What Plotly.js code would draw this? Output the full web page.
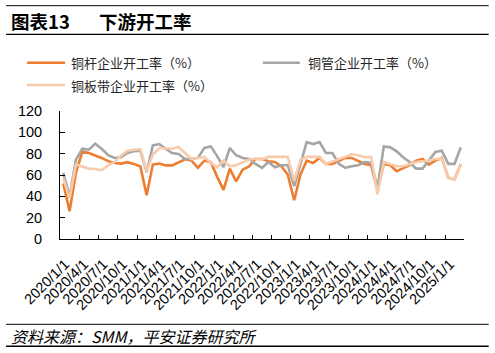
<!DOCTYPE html>
<html><head><meta charset="utf-8">
<script src="https://cdn.plot.ly/plotly-3.0.1.min.js"></script>
<style>html,body{margin:0;padding:0;background:#fff;}#chart{width:495px;height:353px;}</style>
</head><body><div id="chart"></div>
<script>
// ---- data ----
const months = [
"2020-01","2020-02","2020-03","2020-04","2020-05","2020-06","2020-07","2020-08","2020-09","2020-10","2020-11","2020-12",
"2021-01","2021-02","2021-03","2021-04","2021-05","2021-06","2021-07","2021-08","2021-09","2021-10","2021-11","2021-12",
"2022-01","2022-02","2022-03","2022-04","2022-05","2022-06","2022-07","2022-08","2022-09","2022-10","2022-11","2022-12",
"2023-01","2023-02","2023-03","2023-04","2023-05","2023-06","2023-07","2023-08","2023-09","2023-10","2023-11","2023-12",
"2024-01","2024-02","2024-03","2024-04","2024-05","2024-06","2024-07","2024-08","2024-09","2024-10","2024-11","2024-12",
"2025-01","2025-02","2025-03"];
const rodRate = [52,26,62,82,80.6,78.5,76,73,71.3,70.7,72,70.4,
68,41,69.8,70.7,69,69,72.2,74.7,73.5,66.7,73.5,72,
58,46,66,54,65,68,75,75,72.9,72.2,68.2,60.5,
36.3,60.5,73.5,71.3,76,70.4,70.4,73.5,76,76,73.5,70.4,
69.2,45,70.4,69.2,63.6,66.7,69.2,73.5,75,69.8,73.5,76,
57.4,55.8,70.4];
const tubeRate = [62,40,74.4,84.6,83.7,89.3,84.6,78.5,76,76.6,80.6,82.2,
82.8,62.6,87.7,89,84.6,80.6,79.7,75,75,76,85.3,86.8,
77.5,67.3,85.3,78.5,76,75,70.4,66.7,72.2,67.3,69.2,69.2,
49.6,69.8,90.9,89,90.9,80.6,80.6,70.4,66.7,68.2,69.2,72.2,
71.3,48,86.8,85.9,82.2,76.6,72.2,66,66,73.5,81.6,82.8,
70.4,70.4,85.9];
const stripRate = [57,38,69.8,67.6,66,65.7,64.5,69,72.2,78.1,82.8,83.7,
84.3,63.6,79,85.3,84.6,84.6,86.2,80.6,75,76,77,71.3,
67.3,73.5,68.2,69.2,72,74.4,75.3,74.4,77,77,77,77,
54.3,74.4,77,77,77,70.4,72.9,75,77,79.7,78.5,76.6,
77,41.9,72.2,70.4,68.2,68.2,70.4,72.2,72.9,73.5,75,75.3,
58,55.8,70.4];
const tickDates = ["2020-01-01","2020-04-01","2020-07-01","2020-10-01","2021-01-01","2021-04-01","2021-07-01","2021-10-01",
"2022-01-01","2022-04-01","2022-07-01","2022-10-01","2023-01-01","2023-04-01","2023-07-01","2023-10-01",
"2024-01-01","2024-04-01","2024-07-01","2024-10-01","2025-01-01","2025-04-01"];
const tickLabels = ["2020/1/1","2020/4/1","2020/7/1","2020/10/1","2021/1/1","2021/4/1","2021/7/1","2021/10/1",
"2022/1/1","2022/4/1","2022/7/1","2022/10/1","2023/1/1","2023/4/1","2023/7/1","2023/10/1",
"2024/1/1","2024/4/1","2024/7/1","2024/10/1","2025/1/1",""];
const seriesNames = ["铜杆企业开工率（%）","铜管企业开工率（%）","铜板带企业开工率（%）"];
const seriesColors = ["#ED7D31","#A5A5A5","#F8CBAD"];
const chartTitleNo = "图表13";
const chartTitle = "下游开工率";
const sourceText = "资料来源：SMM，平安证券研究所";

// ---- layout geometry ----
const W=495,H=353, L=60, R=464.3, T=111, B=239;
const px = x => (x-L)/(R-L);
const py = y => (B-y)/(B-T);
const cjk = '"Noto Sans CJK SC", "Liberation Sans", sans-serif';
const num = '"Liberation Sans", Arial, sans-serif';

const values = [rodRate, tubeRate, stripRate];
const traces = values.map((v,i)=>({
  type:'scatter', mode:'lines', x:months, y:v, name:seriesNames[i],
  xperiod:'M1', xperiodalignment:'middle',
  line:{color:seriesColors[i], width:2.6}, showlegend:false, hoverinfo:'skip'
}));

const shapes = [];
const hline = (y,x0,x1,w,c)=>shapes.push({type:'line',xref:'paper',yref:'paper',x0:px(x0),x1:px(x1),y0:py(y),y1:py(y),line:{color:c,width:w}});
hline(5.7,6,489,1,'#000');
hline(34.3,6,489,1.3,'#000');
hline(324.3,6,489,1,'#000');
hline(346.3,6,489,1.5,'#000');
// legend keys
const legendPos = [[27,65,62.7,69],[263,300,62.7,306],[27,65,85,69]];
const annotations = [];
legendPos.forEach((p,i)=>{
  hline(p[2],p[0],p[1],2.6,seriesColors[i]);
  annotations.push({xref:'paper',yref:'paper',x:px(p[3]),y:py(p[2]),xanchor:'left',yanchor:'middle',showarrow:false,
    text:seriesNames[i],font:{family:cjk,size:13,color:'#262626'}});
});
annotations.push({xref:'paper',yref:'paper',x:px(9),y:py(21),xanchor:'left',yanchor:'middle',showarrow:false,
  text:'<b>'+chartTitleNo+'</b>',font:{family:cjk,size:18.5,color:'#000'}});
annotations.push({xref:'paper',yref:'paper',x:px(97),y:py(21),xanchor:'left',yanchor:'middle',showarrow:false,
  text:'<b>'+chartTitle+'</b>',font:{family:cjk,size:18.5,color:'#000'}});
annotations.push({xref:'paper',yref:'paper',x:px(9),y:py(336),xanchor:'left',yanchor:'middle',showarrow:false,
  text:'<i>'+sourceText+'</i>',font:{family:cjk,size:16,color:'#000'}});

const layout = {
  width:W,height:H,margin:{l:L,r:W-R,t:T,b:H-B,pad:0},
  paper_bgcolor:'#fff',plot_bgcolor:'#fff',showlegend:false,
  xaxis:{type:'date',range:['2020-01-01','2025-04-01'],tickmode:'array',tickvals:tickDates,ticktext:tickLabels,
    tickangle:-45,ticks:'inside',ticklen:4,tickcolor:'#000',tickwidth:1,showline:true,linecolor:'#000',linewidth:1,
    ticklabelstandoff:10,ticklabelshift:5,
    showgrid:false,zeroline:false,tickfont:{family:num,size:14.5,color:'#000'}},
  yaxis:{range:[0,120],tickmode:'linear',tick0:0,dtick:20,ticks:'inside',ticklen:5,tickcolor:'#000',tickwidth:1,
    ticklabelstandoff:14,
    showline:true,linecolor:'#000',linewidth:1,showgrid:false,zeroline:false,tickfont:{family:num,size:14.5,color:'#000'}},
  shapes:shapes,annotations:annotations
};
Plotly.newPlot('chart',traces,layout,{staticPlot:true,displayModeBar:false});
</script></body></html>
